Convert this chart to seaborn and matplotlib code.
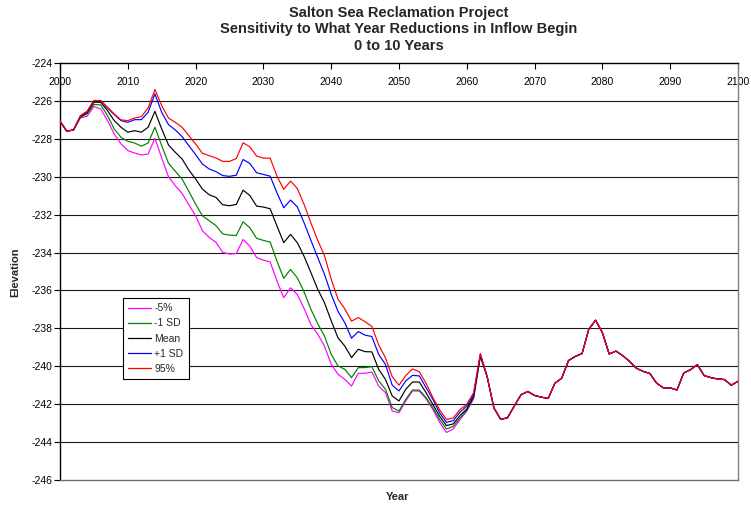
import matplotlib
matplotlib.use("Agg")
import matplotlib.pyplot as plt
from matplotlib import font_manager
import numpy as np
import pandas as pd
import seaborn as sns

# ---------------- data ----------------
years = list(range(2000, 2101))

pct5_head = [-227.07, -227.6, -227.53, -226.9, -226.81, -226.3, -226.42, -227.04, -227.74, -228.27,
             -228.62, -228.75, -228.85, -228.8, -227.97, -229.01, -230.0, -230.47, -230.88, -231.48,
             -232.06, -232.85, -233.2, -233.46, -233.99, -234.08, -234.05, -233.31, -233.66, -234.27,
             -234.4, -234.5, -235.5, -236.38, -235.86, -236.21, -236.95, -237.8, -238.3, -238.93,
             -239.89, -240.42, -240.69, -241.04, -240.37, -240.37, -240.3, -241.04, -241.39, -242.36,
             -242.45, -241.83, -241.3, -241.31, -241.72, -242.28, -242.96, -243.49, -243.31, -242.81,
             -242.37, -241.72, -239.49]

minus1sd_head = [-227.07, -227.6, -227.53, -226.86, -226.69, -226.19, -226.21, -226.77, -227.48, -227.92,
                 -228.13, -228.22, -228.39, -228.22, -227.39, -228.36, -229.29, -229.71, -230.12, -230.77,
                 -231.44, -232.06, -232.32, -232.58, -233.02, -233.08, -233.1, -232.38, -232.69, -233.25,
                 -233.36, -233.45, -234.45, -235.36, -234.89, -235.33, -236.07, -236.99, -237.75, -238.4,
                 -239.37, -239.98, -240.16, -240.6, -240.07, -240.07, -240.02, -240.77, -241.21, -242.18,
                 -242.36, -241.74, -241.25, -241.26, -241.66, -242.19, -242.81, -243.31, -243.17, -242.73,
                 -242.32, -241.66, -239.45]

mean_head = [-227.07, -227.6, -227.53, -226.83, -226.62, -226.07, -226.07, -226.51, -227.04, -227.39,
             -227.65, -227.57, -227.65, -227.39, -226.55, -227.48, -228.32, -228.71, -229.06, -229.64,
             -230.12, -230.65, -230.95, -231.09, -231.48, -231.53, -231.46, -230.71, -230.99, -231.55,
             -231.6, -231.69, -232.6, -233.48, -233.04, -233.48, -234.2, -235.05, -235.93, -236.64,
             -237.6, -238.5, -238.93, -239.54, -239.1, -239.23, -239.24, -240.16, -240.69, -241.57,
             -241.83, -241.21, -240.83, -240.83, -241.4, -242.02, -242.64, -243.13, -243.04, -242.6,
             -242.25, -241.58, -239.45]

plus1sd_head = [-227.07, -227.6, -227.53, -226.79, -226.55, -225.98, -225.98, -226.37, -226.72, -227.04,
                -227.13, -226.99, -226.99, -226.6, -225.63, -226.6, -227.25, -227.53, -227.88, -228.36,
                -228.83, -229.33, -229.59, -229.73, -229.94, -229.98, -229.92, -229.09, -229.3, -229.79,
                -229.88, -229.97, -230.85, -231.64, -231.23, -231.59, -232.43, -233.35, -234.25, -235.14,
                -236.2, -237.1, -237.7, -238.52, -238.17, -238.36, -238.43, -239.37, -239.9, -241.0,
                -241.3, -240.77, -240.48, -240.51, -241.13, -241.75, -242.46, -242.96, -242.87, -242.42,
                -242.1, -241.49, -239.36]

pct95_head = [-227.07, -227.6, -227.53, -226.79, -226.55, -225.98, -225.98, -226.33, -226.69, -227.0,
              -227.04, -226.9, -226.83, -226.37, -225.4, -226.25, -226.9, -227.13, -227.39, -227.83,
              -228.27, -228.76, -228.89, -229.01, -229.19, -229.19, -229.04, -228.21, -228.42, -228.91,
              -229.02, -229.02, -229.97, -230.67, -230.23, -230.62, -231.46, -232.43, -233.35, -234.15,
              -235.41, -236.45, -236.97, -237.62, -237.43, -237.65, -237.9, -238.87, -239.55, -240.55,
              -241.0, -240.49, -240.14, -240.29, -240.9, -241.65, -242.3, -242.81, -242.73, -242.28,
              -242.0, -241.4, -239.33]

# 2063-2100: all five series coincide
common_tail = [-240.55, -242.2, -242.8, -242.72, -242.1, -241.5, -241.33, -241.54, -241.63, -241.7,
               -240.89, -240.63, -239.7, -239.48, -239.33, -238.04, -237.57, -238.23, -239.35, -239.2,
               -239.44, -239.74, -240.1, -240.27, -240.38, -240.89, -241.14, -241.14, -241.25, -240.35,
               -240.18, -239.91, -240.49, -240.6, -240.67, -240.7, -241.0, -240.79]

series_names = ["-5%", "-1 SD", "Mean", "+1 SD", "95%"]
series_colors = ["#FF00FF", "#008000", "#000000", "#0000FF", "#FF0000"]
series_heads = [pct5_head, minus1sd_head, mean_head, plus1sd_head, pct95_head]

title_lines = ["Salton Sea Reclamation Project",
               "Sensitivity to What Year Reductions in Inflow Begin",
               "0 to 10 Years"]
x_ticks = list(range(2000, 2101, 10))
y_ticks = list(range(-246, -223, 2))

# ---------------- build table ----------------
rows = []
for name, head in zip(series_names, series_heads):
    vals = head + common_tail
    for yr, v in zip(years, vals):
        rows.append({"Year": yr, "Elevation": v, "Series": name})
df = pd.DataFrame(rows)

# ---------------- style ----------------
sns.set_theme(style="white")
available = {f.name for f in font_manager.fontManager.ttflist}
base_font = "Liberation Sans" if "Liberation Sans" in available else "DejaVu Sans"
plt.rcParams["font.family"] = [base_font, "DejaVu Sans"]

fig = plt.figure(figsize=(7.51, 5.08), dpi=100)
ax = fig.add_axes([60 / 751, 1 - 480 / 508, 678 / 751, 417 / 508])

palette = dict(zip(series_names, series_colors))
sns.lineplot(data=df, x="Year", y="Elevation", hue="Series", hue_order=series_names,
             palette=palette, linewidth=0.85, ax=ax, legend=True, zorder=3)

ax.set_xlim(2000, 2100)
ax.set_ylim(-246, -224)
ax.set_yticks(y_ticks)
ax.set_yticklabels([str(t) for t in y_ticks])
ax.set_xticks(x_ticks)
ax.set_xticklabels([str(t) for t in x_ticks])

for t in y_ticks:
    if t not in (-246, -224):
        ax.axhline(t, color="#1a1a1a", linewidth=0.8, zorder=1)

for side in ["left", "top"]:
    ax.spines[side].set_color("black")
    ax.spines[side].set_linewidth(1.0)
for side in ["right", "bottom"]:
    ax.spines[side].set_color("#808080")
    ax.spines[side].set_linewidth(1.0)
ax.spines["bottom"].set_color("#707070")

ax.tick_params(axis="y", left=True, right=False, direction="out", length=4, width=0.8,
               labelsize=7.5, pad=1.5, colors="black")
ax.tick_params(axis="x", top=True, bottom=False, labeltop=True, labelbottom=False,
               direction="in", length=4, width=0.8, labelsize=7.5, pad=-17, colors="black")

ax.set_xlabel("")
ax.set_ylabel("")
fig.text(15 / 751, 1 - 272 / 508, "Elevation", rotation=90, ha="center", va="center",
         fontsize=8, fontweight="bold")
fig.text(398 / 751, 1 - 497 / 508, "Year", ha="center", va="center",
         fontsize=8, fontweight="bold")

for i, line in enumerate(title_lines):
    fig.text(399 / 751, 1 - (13 + 16.5 * i) / 508, line, ha="center", va="center",
             fontsize=10.5, fontweight="bold")

handles, labels = ax.get_legend_handles_labels()
leg = ax.legend(handles, labels, loc="upper left", bbox_to_anchor=(63 / 678, (480 - 298) / 417),
                frameon=True, fancybox=False, framealpha=1, edgecolor="black", fontsize=7.5,
                handlelength=2.2, handletextpad=0.3, labelspacing=0.5, borderpad=0.5,
                borderaxespad=0)
leg.get_frame().set_linewidth(0.8)
for h in leg.get_lines():
    h.set_linewidth(0.9)

fig.savefig("out.png", dpi=100, facecolor="white")
